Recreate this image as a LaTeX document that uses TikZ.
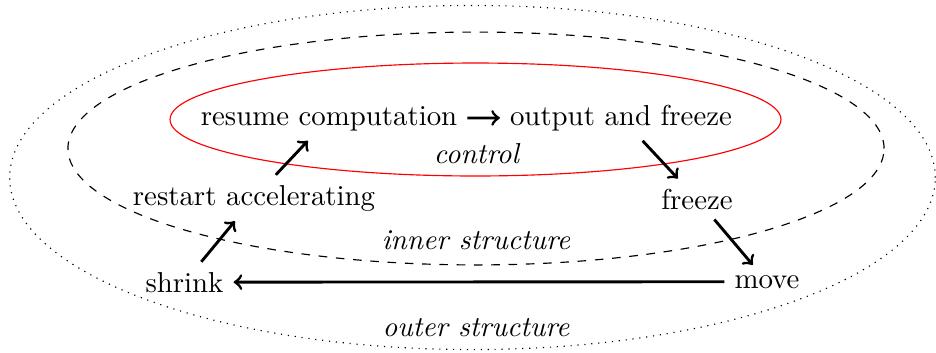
\documentclass[tikz,border=0pt]{standalone}
\usetikzlibrary{arrows}
\begin{document}
\begin{tikzpicture}[x=0.347pt,y=-0.347pt,
  lbl/.style={anchor=base},
  flow/.style={->,line width=1pt}]
\useasboundingbox (0,0) rectangle (936,352);
\draw[red] (475.5,119.5) ellipse [x radius=106.0pt, y radius=19.6pt];
\draw[dashed] (476,148.5) ellipse [x radius=141.6pt, y radius=40.4pt];
\draw[dotted] (472.5,177.5) ellipse [x radius=160.6pt, y radius=59.7pt];
\node[lbl] (resume) at (329,125) {resume computation};
\node[lbl] (output) at (621,125) {output and freeze};
\node[lbl] (control) at (476.5,163) {\itshape control};
\node[lbl] (restart) at (254,205) {restart accelerating};
\node[lbl] (freeze) at (697,209) {freeze};
\node[lbl] (inner) at (476,249) {\itshape inner structure};
\node[lbl] (shrink) at (184.5,292) {shrink};
\node[lbl] (move) at (767,288) {move};
\node[lbl] (outer) at (476,336) {\itshape outer structure};
\draw[flow] (resume) -- (output);
\draw[flow] (output) -- (freeze);
\draw[flow] (freeze) -- (move);
\draw[flow] (move) -- (shrink);
\draw[flow] (shrink) -- (restart);
\draw[flow] (restart) -- (resume);
\end{tikzpicture}
\end{document}
